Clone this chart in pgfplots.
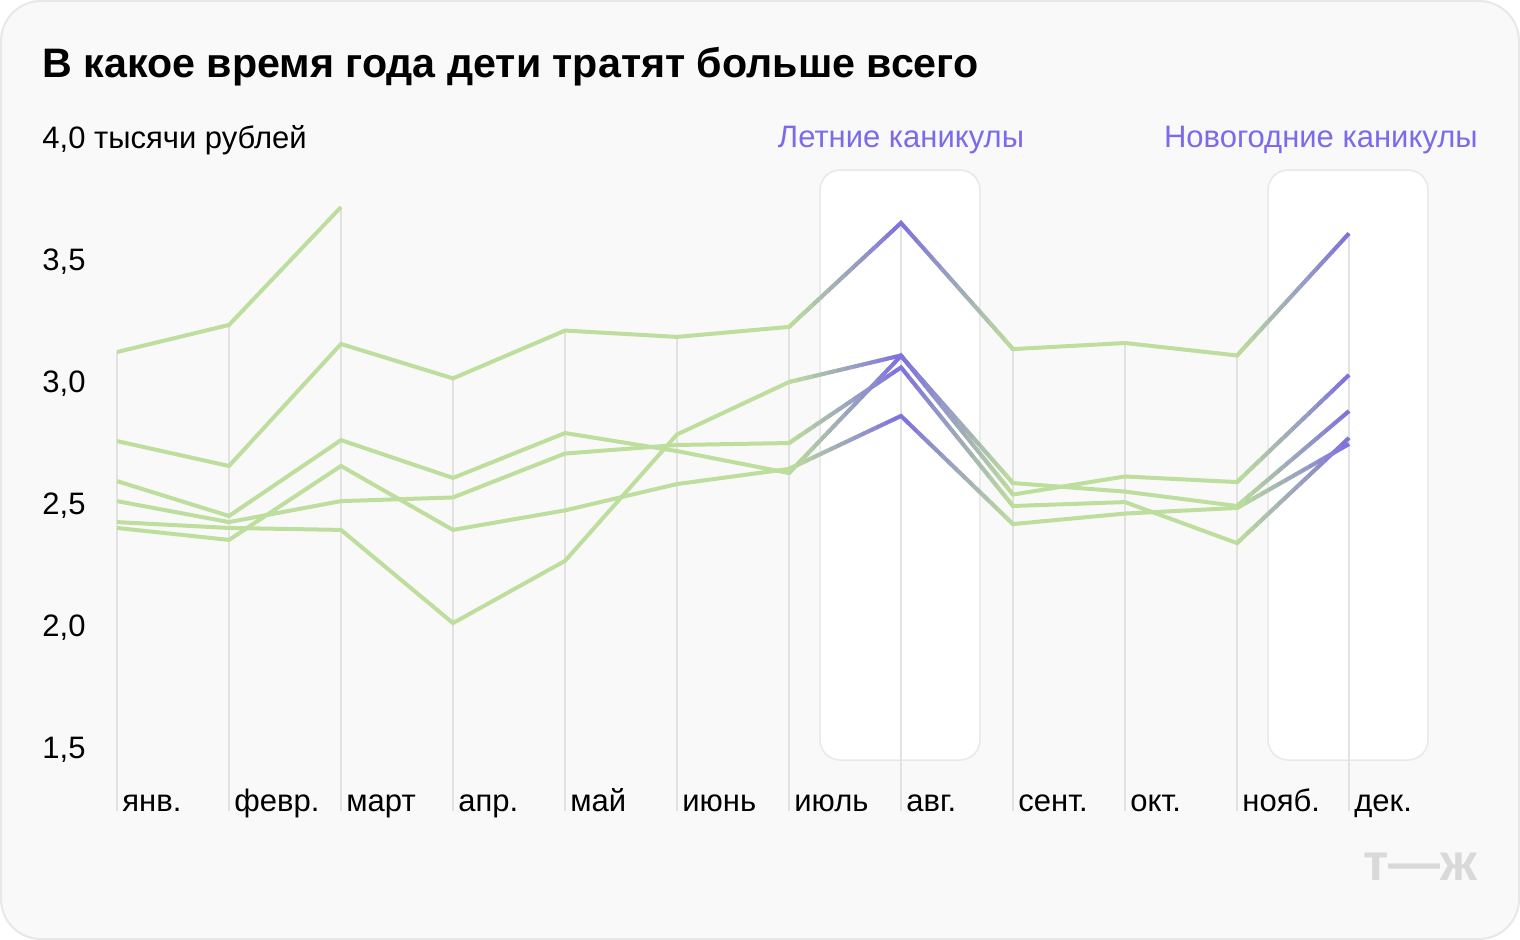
\documentclass[border=0pt]{standalone}
\usepackage{fontspec}
\setmainfont{Liberation Sans}
\usepackage{pgfplots}
\usepackage{pgfplotstable}
\pgfplotsset{compat=1.18}
\definecolor{bg}{HTML}{F9F9F9}
\definecolor{framec}{HTML}{E8E8E8}
\definecolor{gridc}{HTML}{E2E2E2}
\definecolor{lgreen}{RGB}{189,222,156}
\definecolor{lpurple}{RGB}{126,110,228}
\definecolor{tpurple}{RGB}{124,106,236}
\definecolor{logoc}{HTML}{D9D9D9}

\pgfplotstableread{
m A B C D E F
0 3.131 2.766 2.602 2.520 2.434 2.410
1 3.242 2.664 2.459 2.434 2.410 2.361
2 3.725 3.164 2.770 2.520 2.402 2.664
3 nan 3.023 2.615 2.535 2.020 2.402
4 nan 3.219 2.799 2.715 2.275 2.482
5 nan 3.193 2.725 2.750 2.793 2.590
6 nan 3.234 2.635 2.758 3.008 2.652
7 nan 3.660 3.115 3.068 3.117 2.869
8 nan 3.143 2.594 2.500 2.547 2.426
9 nan 3.168 2.559 2.516 2.621 2.469
10 nan 3.117 2.500 2.348 2.598 2.492
11 nan 3.617 2.889 2.779 3.037 2.754
}\data

\pgfplotsset{
  common/.style={
    at={(58.5pt,-405.5pt)}, anchor=south west, scale only axis,
    width=616pt, height=335.5pt,
    xmin=0, xmax=11, ymin=1.25, ymax=4, clip=false,
  },
  series/.style={line width=2pt},
}
\newcommand\bodyfont{\fontsize{15.5}{18}\selectfont}

% one vertical strip of the colour transition: x from #1 to #2 (pt), #3 = percent of purple
\newcommand\strip[3]{%
  \begin{scope}
  \clip (#1pt,-1pt) rectangle (#2pt,-469pt);
  \begin{axis}[common, hide axis]
  \addplot[draw=lpurple!#3!lgreen, series] table[x=m, y=B] {\data};
  \addplot[draw=lpurple!#3!lgreen, series] table[x=m, y=C] {\data};
  \addplot[draw=lpurple!#3!lgreen, series] table[x=m, y=D] {\data};
  \addplot[draw=lpurple!#3!lgreen, series] table[x=m, y=E] {\data};
  \addplot[draw=lpurple!#3!lgreen, series] table[x=m, y=F] {\data};
  \end{axis}
  \end{scope}}

\begin{document}
\begin{tikzpicture}
\fill[white] (0,0) rectangle (760pt,-470pt);
\draw[framec, fill=bg, line width=1pt, rounded corners=20pt] (0.5pt,-0.5pt) rectangle (759.5pt,-469.5pt);
\node[anchor=base west, inner sep=0pt, font=\fontsize{20.6}{24}\selectfont\bfseries] at (21pt,-39pt) {В какое время года дети тратят больше всего};
\node[anchor=base east, inner sep=0pt, text=logoc, font=\fontsize{26}{26}\selectfont\bfseries] at (739pt,-440pt) {т—ж};

\begin{axis}[common,
  axis line style={draw=none}, tick style={draw=none}, major tick length=0pt,
  xtick={0,...,11},
  xticklabels={янв.,февр.,март,апр.,май,июнь,июль,авг.,сент.,окт.,нояб.,дек.},
  ytick={1.5,2,2.5,3,3.5,4},
  yticklabels={{1,5},{2,0},{2,5},{3,0},{3,5},{4,0 тысячи рублей}},
  xticklabel style={anchor=base west, inner sep=0pt, xshift=2.5pt, font=\bodyfont},
  yticklabel style={anchor=west, inner sep=0pt, xshift=-37.5pt, font=\bodyfont},
]
\draw[framec, fill=white, line width=0.75pt, rounded corners=10pt] (axis cs:6.277,1.459) rectangle (axis cs:7.705,3.877);
\draw[framec, fill=white, line width=0.75pt, rounded corners=10pt] (axis cs:10.277,1.459) rectangle (axis cs:11.705,3.877);
\addplot[gridc, line width=1pt, unbounded coords=jump] coordinates {
 (0,1.25) (0,3.131) (0,nan)
 (1,1.25) (1,3.242) (1,nan)
 (2,1.25) (2,3.725) (2,nan)
 (3,1.25) (3,3.023) (3,nan)
 (4,1.25) (4,3.219) (4,nan)
 (5,1.25) (5,3.193) (5,nan)
 (6,1.25) (6,3.234) (6,nan)
 (7,1.25) (7,3.660) (7,nan)
 (8,1.25) (8,3.143) (8,nan)
 (9,1.25) (9,3.168) (9,nan)
 (10,1.25) (10,3.117) (10,nan)
 (11,1.25) (11,3.617)
};
\addplot[lgreen, series] table[x=m, y=A] {\data};
\addplot[lgreen, series] table[x=m, y=B] {\data};
\addplot[lgreen, series] table[x=m, y=C] {\data};
\addplot[lgreen, series] table[x=m, y=D] {\data};
\addplot[lgreen, series] table[x=m, y=E] {\data};
\addplot[lgreen, series] table[x=m, y=F] {\data};
\node[text=tpurple, inner sep=0pt, font=\bodyfont] at (axis cs:7,4) {Летние каникулы};
\node[text=tpurple, anchor=east, inner sep=0pt, font=\bodyfont] at (axis cs:12.152,4) {Новогодние каникулы};
\end{axis}

% summer: Jul (394.5pt) -> Aug (450.5pt) -> Sep (506.5pt)
\foreach \k in {0,...,27} {
  \pgfmathsetmacro\xa{394.5+4*\k}
  \pgfmathsetmacro\xb{\xa+4.1}
  \pgfmathtruncatemacro\p{100*(1-abs(\xa+2-450.5)/56)}
  \strip{\xa}{\xb}{\p}
}
% new year: Nov (618.5pt) -> Dec (674.5pt)
\foreach \k in {0,...,13} {
  \pgfmathsetmacro\xa{618.5+4*\k}
  \pgfmathsetmacro\xb{\xa+4.1}
  \pgfmathtruncatemacro\p{100*(\xa+2-618.5)/56}
  \strip{\xa}{\xb}{\p}
}
\strip{674.5}{700}{100}
\pgfresetboundingbox
\path[use as bounding box] (0,0) rectangle (760pt,-470pt);
\end{tikzpicture}
\end{document}
